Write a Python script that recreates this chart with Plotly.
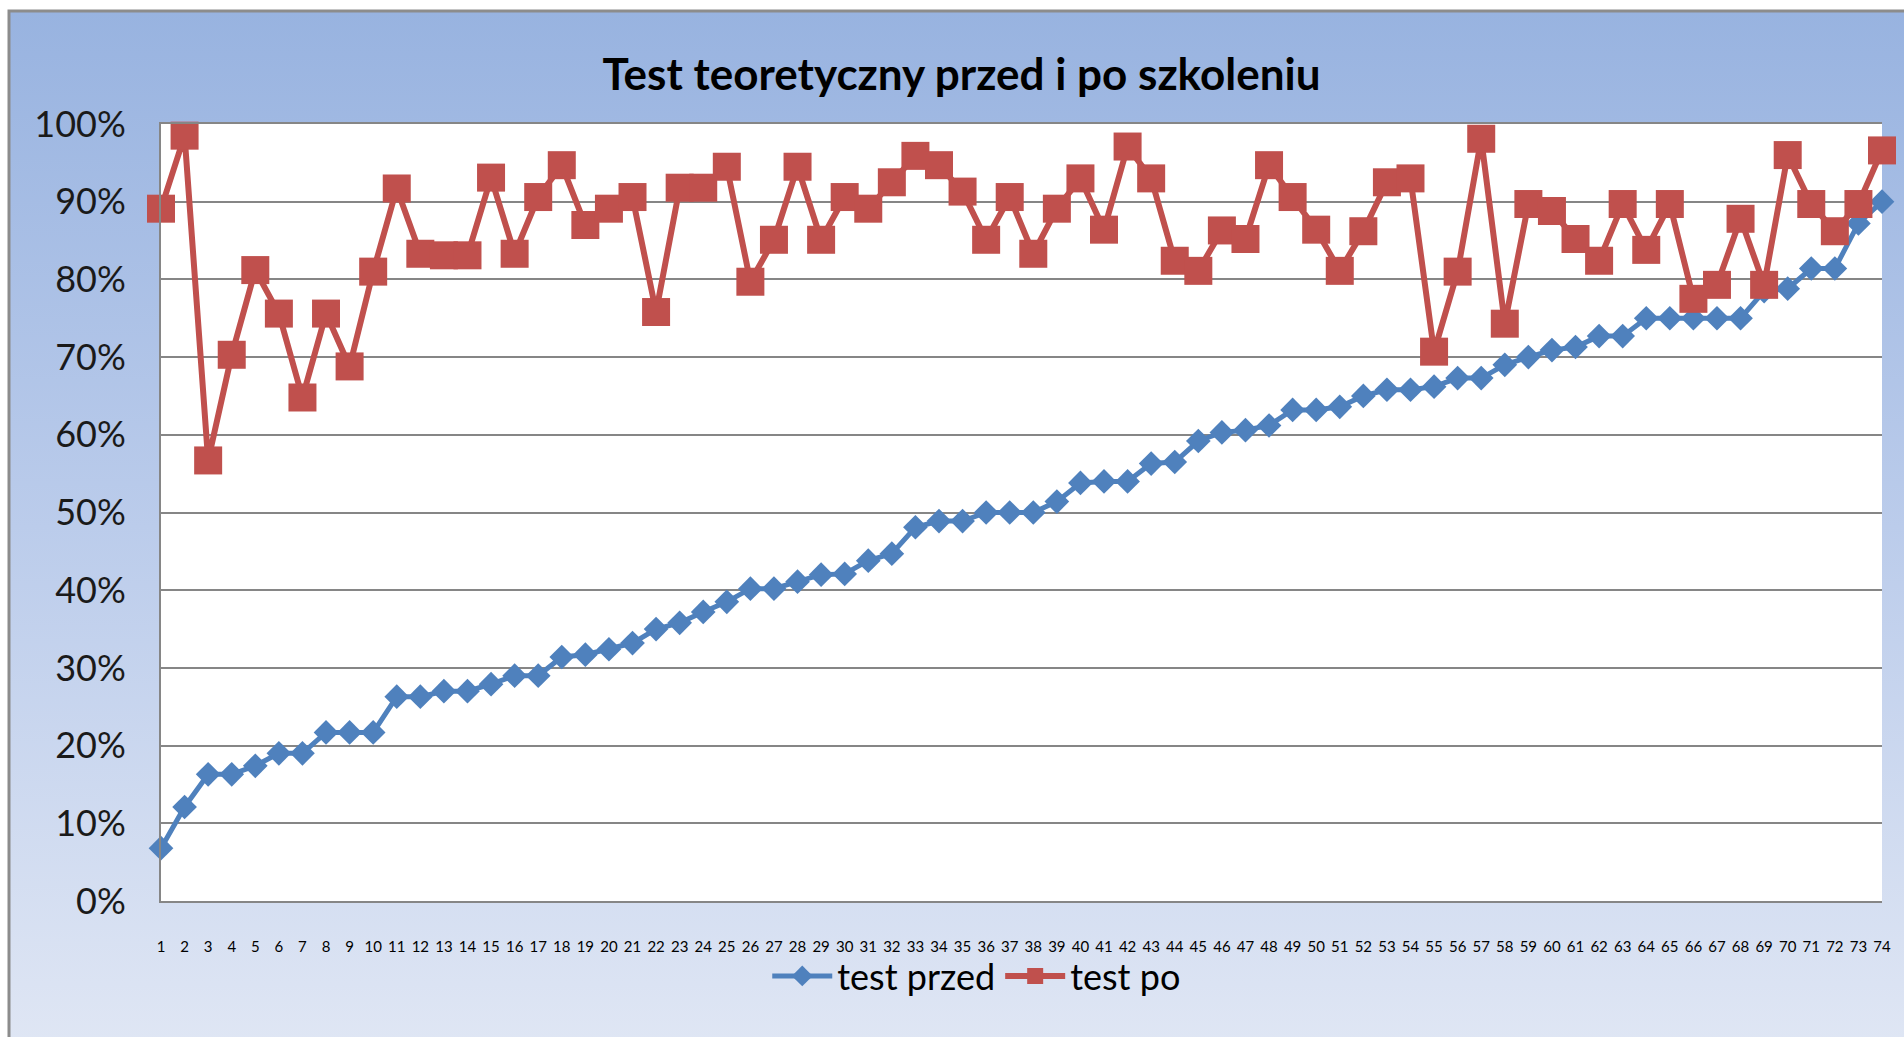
import base64
import plotly.graph_objects as go

categories = [
    "1", "2", "3", "4", "5", "6", "7", "8", "9", "10",
    "11", "12", "13", "14", "15", "16", "17", "18", "19", "20",
    "21", "22", "23", "24", "25", "26", "27", "28", "29", "30",
    "31", "32", "33", "34", "35", "36", "37", "38", "39", "40",
    "41", "42", "43", "44", "45", "46", "47", "48", "49", "50",
    "51", "52", "53", "54", "55", "56", "57", "58", "59", "60",
    "61", "62", "63", "64", "65", "66", "67", "68", "69", "70",
    "71", "72", "73", "74",
]

test_przed = [
    6.8, 12.1, 16.3, 16.3, 17.4, 19.0, 19.0, 21.7, 21.7, 21.7,
    26.3, 26.3, 27.0, 27.0, 27.9, 29.0, 29.0, 31.4, 31.7, 32.4,
    33.2, 35.0, 35.8, 37.2, 38.5, 40.2, 40.2, 41.1, 42.0, 42.1,
    43.8, 44.7, 48.1, 48.9, 48.9, 50.0, 50.0, 50.0, 51.4, 53.8,
    54.0, 54.0, 56.3, 56.5, 59.2, 60.3, 60.6, 61.2, 63.2, 63.2,
    63.6, 65.0, 65.8, 65.8, 66.2, 67.3, 67.3, 69.0, 70.0, 70.9,
    71.3, 72.7, 72.7, 75.0, 75.0, 75.0, 75.0, 75.0, 78.5, 78.8,
    81.4, 81.4, 87.2, 90.0,
]

test_po = [
    89.1, 98.5, 56.7, 70.3, 81.2, 75.6, 64.8, 75.6, 68.8, 81.0,
    91.7, 83.3, 83.1, 83.1, 93.1, 83.3, 90.6, 94.7, 87.0, 89.1,
    90.6, 75.8, 91.8, 91.8, 94.5, 79.7, 85.1, 94.5, 85.1, 90.6,
    89.1, 92.5, 95.9, 94.7, 91.3, 85.1, 90.6, 83.3, 89.1, 93.0,
    86.4, 97.1, 93.0, 82.4, 81.1, 86.3, 85.2, 94.7, 90.6, 86.4,
    81.1, 86.2, 92.5, 93.0, 70.7, 81.0, 98.1, 74.3, 89.7, 88.8,
    85.2, 82.4, 89.7, 83.8, 89.7, 77.5, 79.3, 87.8, 79.3, 96.0,
    89.7, 86.2, 89.7, 96.6,
]

series_names = ["test przed", "test po"]
y_ticks = [0, 10, 20, 30, 40, 50, 60, 70, 80, 90, 100]
y_tick_labels = ["0%", "10%", "20%", "30%", "40%", "50%", "60%", "70%", "80%", "90%", "100%"]
title_text = "Test teoretyczny przed i po szkoleniu"

W, H = 1904, 1037
L, R, T, B = 161, 22, 124, 136
pw, ph = W - L - R, H - T - B

def px_to_paper_x(px):
    return (px - L) / pw

def px_to_paper_y(py):
    return (H - B - py) / ph

FONT = "Lato, Carlito, Calibri, 'Open Sans', sans-serif"

fig = go.Figure()
fig.add_trace(go.Scatter(
    x=categories, y=test_przed, name=series_names[0], mode="lines+markers",
    line=dict(color="#4F81BD", width=5),
    marker=dict(symbol="diamond", size=19, color="#4F81BD"),
    cliponaxis=False,
))
fig.add_trace(go.Scatter(
    x=categories, y=test_po, name=series_names[1], mode="lines+markers",
    line=dict(color="#C0504D", width=6),
    marker=dict(symbol="square", size=28, color="#C0504D"),
    cliponaxis=False,
))

svg = ('<svg xmlns="http://www.w3.org/2000/svg" width="100" height="100" viewBox="0 0 100 100" '
       'preserveAspectRatio="none"><defs><linearGradient id="g" x1="0" y1="0" x2="0" y2="1">'
       '<stop offset="0" stop-color="#98B3E0"/><stop offset="0.5" stop-color="#BBCCEB"/>'
       '<stop offset="1" stop-color="#DFE6F4"/></linearGradient></defs>'
       '<rect width="100" height="100" fill="url(#g)"/></svg>')
src = "data:image/svg+xml;base64," + base64.b64encode(svg.encode()).decode()

bx0, by0 = 9, 11
fig.add_layout_image(dict(
    source=src, xref="paper", yref="paper",
    x=px_to_paper_x(bx0), y=px_to_paper_y(by0),
    sizex=px_to_paper_x(W + 5) - px_to_paper_x(bx0),
    sizey=px_to_paper_y(by0) - px_to_paper_y(H + 5),
    xanchor="left", yanchor="top", sizing="stretch", layer="below",
))

fig.add_shape(type="rect", xref="paper", yref="paper",
              x0=0, x1=1, y0=0, y1=1, fillcolor="white",
              line=dict(width=0), layer="below")
fig.add_shape(type="rect", xref="paper", yref="paper",
              x0=px_to_paper_x(bx0), x1=px_to_paper_x(W + 20),
              y0=px_to_paper_y(H + 20), y1=px_to_paper_y(by0),
              fillcolor="rgba(0,0,0,0)", line=dict(color="#8C8C8C", width=3),
              layer="below")

fig.update_layout(
    width=W, height=H,
    margin=dict(l=L, r=R, t=T, b=B, autoexpand=False),
    paper_bgcolor="white", plot_bgcolor="white",
    font=dict(family=FONT, color="#000000"),
    title=dict(text=title_text, x=0.505, y=1 - 75 / H, xref="container", yref="container",
               xanchor="center", yanchor="middle",
               font=dict(family=FONT, size=44, color="#000000", weight="bold")),
    legend=dict(orientation="h", x=0.513, y=1 - 976 / H, xref="container", yref="container",
                xanchor="center", yanchor="middle", bgcolor="rgba(0,0,0,0)",
                font=dict(family=FONT, size=36, color="#000000"), itemwidth=60),
    showlegend=True,
    hovermode="closest",
)

fig.update_xaxes(
    type="category", range=[0, len(categories) - 1],
    tickmode="array", tickvals=categories, ticktext=categories,
    tickangle=0, ticks="", showgrid=False,
    showline=True, linecolor="#868686", linewidth=2, mirror=True,
    tickfont=dict(family=FONT, size=15, color="#000000"),
    ticklabelstandoff=31,
)
fig.update_yaxes(
    range=[0, 100], tickmode="array", tickvals=y_ticks, ticktext=y_tick_labels,
    ticks="", showgrid=True, gridcolor="#868686", gridwidth=1.5,
    showline=True, linecolor="#868686", linewidth=2, zeroline=False,
    tickfont=dict(family=FONT, size=36, color="#1A1A1A"),
    ticklabelstandoff=26,
)

fig.write_html(
    "out.html",
    config={"displayModeBar": False},
    post_script="document.body.style.margin='0';document.body.style.overflow='hidden';",
)
